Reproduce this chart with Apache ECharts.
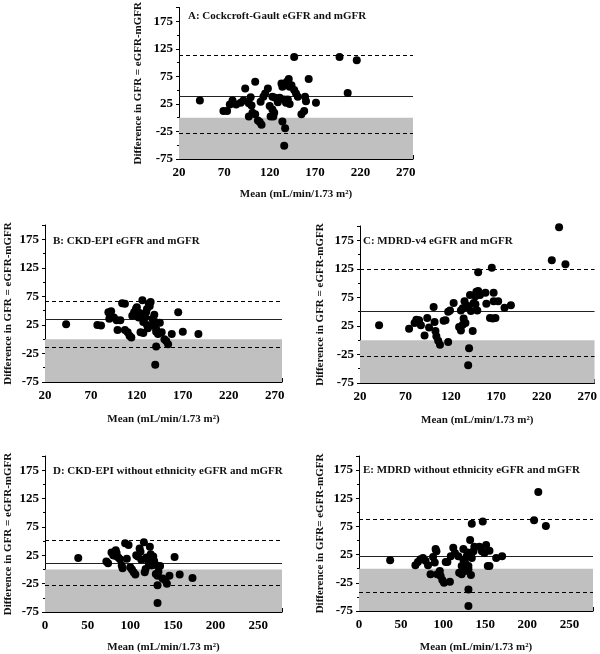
<!DOCTYPE html>
<html><head><meta charset="utf-8">
<script src="https://cdn.jsdelivr.net/npm/echarts@6/dist/echarts.min.js"></script>
<style>html,body{margin:0;padding:0;background:#fff}#c{width:600px;height:654px}</style>
</head><body><div id="c"></div>
<script>
// ---- data ----
const panelTitles = [
  'A: Cockcroft-Gault eGFR and mGFR',
  'B: CKD-EPI eGFR and mGFR',
  'C: MDRD-v4 eGFR and mGFR',
  'D: CKD-EPI without ethnicity eGFR and mGFR',
  'E: MDRD without ethnicity eGFR and mGFR'
];
const yAxisNames = [
  'Difference in GFR = eGFR-mGFR',
  'Difference in GFR = eGFR-mGFR',
  'Difference in GFR = eGFR-mGFR',
  'Difference in GFR = eGFR-mGFR',
  'Difference in GFR= eGFR-mGFR'
];
const xAxisNames = [
  'Mean (mL/min/1.73 m\u00B2)',
  'Mean (mL/min/1.73 m\u00B2)',
  'Mean (mL/min/1.73 m\u00B2)',
  'Mean (mL/min/1.73 m\u00B2)',
  'Mean (mL/min/1.73 m\u00B2)'
];
const xMins = [20, 20, 20, 0, 0];
const xMaxs = [278, 278, 278, 278, 278];
const xInterval = 50;
const yMin = -75, yMax = 200, yInterval = 50;
const biasVals = [38, 35, 51, 11, 22];
const upperLoa = [113, 67, 124, 51, 88];
const lowerLoa = [-28, -14, -28, -28, -42];
const shadeBand = [-75, 0];

const pointsA = [[43,31],[69,12],[73,12],[76,24],[79,31],[83,24],[88,27],[91,31],[93,53],[97,26],[99,37],[100,22],[97,2],[101,9],[104,6],[104,65],[107,-5],[109,-8],[111,-13],[110,29],[113,38],[115,44],[118,53],[120,21],[123,15],[121,2],[124,2],[125,9],[123,38],[126,36],[129,28],[131,36],[133,62],[134,56],[134,-7],[137,-19],[136,-51],[136,33],[138,27],[140,33],[142,25],[137,59],[139,65],[141,70],[142,56],[144,59],[147,50],[147,110],[149,44],[151,38],[155,6],[158,12],[159,38],[160,30],[163,70],[171,27],[197,110],[206,45],[216,104]];
const pointsB = [[43,26],[77,25],[81,24],[89,47],[91,43],[90,36],[92,49],[95,38],[98,33],[99,16],[102,33],[104,63],[107,62],[107,16],[110,12],[112,6],[114,3],[115,41],[117,47],[119,53],[120,56],[122,38],[123,46],[124,12],[127,11],[126,68],[127,30],[129,38],[130,47],[131,25],[131,53],[133,62],[134,58],[135,65],[132,19],[135,24],[137,36],[139,43],[140,30],[141,18],[141,13],[141,-13],[140,-45],[143,9],[145,29],[147,12],[150,0],[152,-3],[154,-9],[158,9],[165,47],[170,13],[187,9]];
const pointsC = [[41,26],[74,20],[80,30],[82,36],[85,35],[87,26],[91,8],[94,39],[96,22],[101,58],[102,32],[103,16],[104,7],[106,-1],[108,-8],[112,34],[114,35],[117,-3],[117,50],[119,52],[123,65],[129,23],[131,17],[133,27],[131,52],[133,56],[134,38],[135,68],[136,30],[137,58],[139,60],[140,-14],[139,-44],[141,79],[142,51],[144,16],[145,65],[147,77],[148,85],[150,86],[152,79],[147,63],[149,52],[150,119],[158,83],[159,64],[163,39],[166,38],[169,39],[165,127],[167,83],[167,68],[172,68],[179,57],[186,61],[231,140],[239,198],[246,133]];
const pointsD = [[39,20],[72,14],[74,11],[78,30],[80,25],[82,24],[84,29],[86,21],[88,18],[83,34],[90,7],[91,2],[94,46],[98,43],[96,19],[100,4],[102,0],[104,-5],[106,-9],[107,25],[109,23],[111,37],[112,31],[113,17],[116,48],[117,-5],[118,1],[119,21],[121,14],[122,10],[123,40],[124,27],[125,7],[127,23],[128,15],[130,8],[130,-8],[132,-11],[133,-4],[132,-28],[132,-59],[135,6],[138,-16],[141,-19],[143,-25],[146,-11],[152,22],[158,-9],[173,-15]];
const pointsE = [[37,15],[67,6],[70,12],[73,17],[76,19],[79,14],[82,6],[85,-10],[88,21],[90,11],[91,35],[92,31],[93,-10],[96,-4],[97,-13],[99,-20],[101,-25],[103,12],[105,12],[108,-23],[109,22],[112,37],[114,28],[118,22],[119,-7],[122,-10],[122,5],[124,35],[124,16],[126,-4],[126,11],[128,22],[129,29],[130,-1],[130,5],[132,51],[133,-11],[134,80],[134,19],[136,31],[137,39],[130,-37],[130,-66],[143,39],[146,31],[147,84],[149,28],[151,42],[153,5],[155,5],[155,32],[163,19],[170,22],[208,86],[213,136],[222,76]];
const allPoints = [pointsA, pointsB, pointsC, pointsD, pointsE];

// ---- layout / style ----
const grids = [
  {left: 179, top: 1, width: 234, height: 158},
  {left: 45, top: 225, width: 237, height: 157},
  {left: 360, top: 226, width: 235, height: 157},
  {left: 45, top: 456, width: 237, height: 158},
  {left: 359, top: 456, width: 234, height: 158}
];
const titlePos = [[188, 11], [53, 236], [363, 236], [53, 466], [363, 465]];
const yNameGap = [35, 31, 34, 31, 33];
const xNameGap = [30, 32, 32, 30, 31];
const xMinorSplit = [10, 10, 10, 5, 5];
const FONT = '"Liberation Serif", "Times New Roman", serif';

const chart = echarts.init(document.getElementById('c'), null, {renderer: 'canvas'});
const option = {
  animation: false,
  backgroundColor: '#fff',
  title: panelTitles.map((t, i) => ({
    text: t, left: titlePos[i][0], top: titlePos[i][1], padding: 0,
    textStyle: {fontFamily: FONT, fontWeight: 'bold', fontSize: 11, color: '#111'}
  })),
  grid: grids.map(g => Object.assign({containLabel: false}, g)),
  xAxis: grids.map((g, i) => ({
    type: 'value', gridIndex: i, min: xMins[i], max: xMaxs[i], interval: xInterval,
    name: xAxisNames[i], nameLocation: 'middle', nameGap: xNameGap[i],
    nameTextStyle: {fontFamily: FONT, fontWeight: 'bold', fontSize: 11, color: '#111'},
    axisLine: {show: true, onZero: false, lineStyle: {color: '#000', width: 1}},
    axisTick: {show: true, inside: true, length: 4, lineStyle: {color: '#000'}},
    minorTick: {show: true, splitNumber: xMinorSplit[i], length: 2, lineStyle: {color: '#000'}},
    splitLine: {show: false},
    axisLabel: {fontFamily: FONT, fontWeight: 'bold', fontSize: 13, color: '#000', margin: 7, showMaxLabel: false}
  })),
  yAxis: grids.map((g, i) => ({
    type: 'value', gridIndex: i, min: yMin, max: yMax, interval: yInterval,
    name: yAxisNames[i], nameLocation: 'middle', nameGap: yNameGap[i], nameRotate: 90,
    nameTextStyle: {fontFamily: FONT, fontWeight: 'bold', fontSize: 11, color: '#111'},
    axisLine: {show: true, onZero: false, lineStyle: {color: '#000', width: 1}},
    axisTick: {show: true, inside: false, length: 3, lineStyle: {color: '#000'}},
    minorTick: {show: true, splitNumber: 2, length: 2, lineStyle: {color: '#000'}},
    splitLine: {show: false},
    axisLabel: {fontFamily: FONT, fontWeight: 'bold', fontSize: 13, color: '#000', margin: 6, showMaxLabel: false}
  })),
  series: allPoints.map((pts, i) => ({
    type: 'scatter', xAxisIndex: i, yAxisIndex: i, data: pts,
    symbol: 'circle', symbolSize: 8, itemStyle: {color: '#000', opacity: 1},
    z: 3, silent: true,
    markArea: {
      silent: true, z: 1,
      itemStyle: {color: '#c0c0c0', opacity: 1},
      data: [[{yAxis: shadeBand[0]}, {yAxis: shadeBand[1]}]]
    },
    markLine: {
      silent: true, symbol: 'none', z: 2, label: {show: false},
      lineStyle: {color: '#000', width: 1},
      data: [
        {yAxis: biasVals[i], lineStyle: {type: 'solid', color: '#222', width: 1}},
        {yAxis: upperLoa[i], lineStyle: {type: [4, 3], color: '#000', width: 1}},
        {yAxis: lowerLoa[i], lineStyle: {type: [4, 3], color: '#000', width: 1}}
      ]
    }
  }))
};
chart.setOption(option);
</script>
</body></html>
